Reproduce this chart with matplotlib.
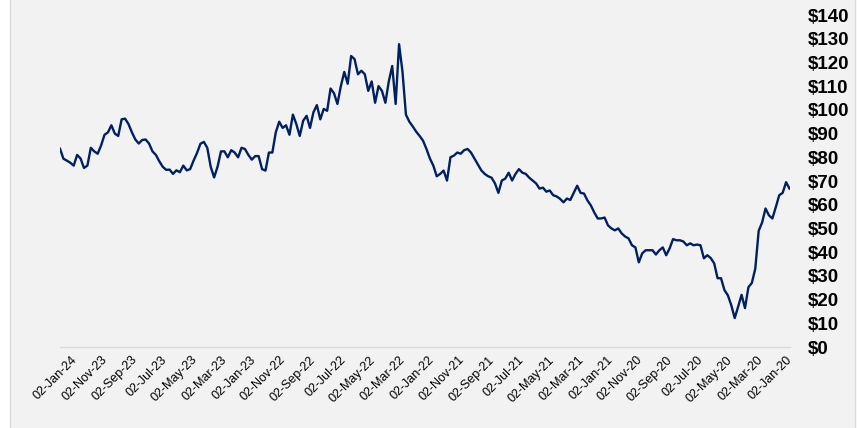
import matplotlib
matplotlib.use('Agg')
import matplotlib.pyplot as plt
import matplotlib.dates as mdates
from matplotlib.patches import Rectangle
import numpy as np
import pandas as pd

# weekly closing price, oldest first (03-Jan-20 .. 02-Feb-24)
prices = [
    66.8, 69.5, 65.0, 64.0, 59.0, 54.2, 55.5, 58.4, 52.5, 49.0,
    33.0, 27.0, 25.2, 16.4, 22.0, 17.0, 12.2, 17.6, 21.8, 24.0,
    29.0, 29.0, 35.3, 37.5, 38.7, 37.4, 42.9, 43.2, 42.9, 43.7,
    42.9, 44.5, 45.0, 45.0, 45.5, 41.6, 38.7, 42.0, 40.8, 39.0,
    40.8, 40.8, 40.8, 39.5, 35.7, 42.0, 42.9, 45.8, 46.6, 47.9,
    50.0, 49.2, 50.0, 51.3, 54.6, 54.2, 54.2, 56.7, 59.7, 61.8,
    64.7, 65.0, 68.0, 65.0, 62.0, 62.6, 61.0, 62.5, 63.5, 64.0,
    66.0, 65.5, 67.2, 66.8, 69.0, 70.2, 71.4, 73.0, 73.5, 75.0,
    73.0, 70.2, 73.5, 71.0, 70.2, 65.0, 69.0, 71.4, 72.0, 73.0,
    74.5, 77.0, 79.5, 82.0, 83.5, 83.0, 81.5, 82.0, 80.7, 80.0,
    70.2, 74.4, 73.0, 72.0, 76.5, 79.5, 83.5, 87.0, 89.0, 90.8,
    93.0, 95.0, 98.0, 116.0, 127.7, 102.5, 118.5, 112.0, 103.0, 108.0,
    110.0, 103.0, 112.0, 108.0, 115.0, 116.5, 115.0, 121.4, 122.7, 111.0,
    116.0, 110.0, 102.5, 107.0, 109.0, 99.6, 100.4, 96.0, 102.0, 99.0,
    92.4, 97.5, 95.4, 89.0, 94.0, 98.0, 89.5, 93.5, 92.4, 95.0,
    90.5, 82.0, 82.0, 74.4, 75.0, 80.5, 80.5, 79.0, 81.0, 83.5,
    84.0, 80.0, 82.0, 83.0, 80.0, 82.5, 82.5, 76.0, 71.5, 76.0,
    84.0, 86.5, 85.7, 81.8, 78.6, 75.0, 74.5, 76.5, 73.7, 74.5,
    73.0, 74.8, 74.7, 76.0, 78.3, 81.0, 82.5, 85.8, 87.5, 87.3,
    85.8, 87.5, 90.5, 94.0, 96.3, 96.0, 89.0, 90.0, 93.5, 90.5,
    89.5, 85.0, 81.5, 82.5, 84.0, 76.5, 75.5, 79.5, 81.0, 76.5,
    77.7, 78.6, 79.4, 83.6,
]
dates = pd.date_range(end='2024-02-02', periods=len(prices), freq='7D')

tick_dates = pd.date_range('2020-01-01', '2024-01-01', freq='2MS') + pd.Timedelta(days=1)
y_ticks = list(range(0, 141, 10))

fig = plt.figure(figsize=(8.57, 4.28), dpi=100)
fig.patch.set_facecolor('white')
bg = Rectangle((10 / 857, -0.01), 845 / 857, 1.02, transform=fig.transFigure,
               facecolor='#f2f2f2', edgecolor='#d9d9d9', linewidth=1, zorder=-10)
fig.add_artist(bg)

ax = fig.add_axes([60 / 857, 1 - 347 / 428, 730 / 857, 332 / 428])
ax.set_facecolor('none')
ax.set_zorder(5)
ax.plot(dates, prices, color='#002060', linewidth=1.7)

ax.set_xlim(pd.Timestamp('2024-02-02'), pd.Timestamp('2020-01-02'))
ax.set_ylim(0, 140)

ax.set_xticks(tick_dates)
ax.xaxis.set_major_formatter(mdates.DateFormatter('%d-%b-%y'))
ax.set_yticks(y_ticks)
ax.set_yticklabels(['$' + str(v) for v in y_ticks])

ax.yaxis.tick_right()
for s in ['top', 'left', 'right']:
    ax.spines[s].set_visible(False)
ax.spines['bottom'].set_color('#d9d9d9')
ax.spines['bottom'].set_linewidth(1)

ax.tick_params(axis='y', length=0, pad=13)
ax.tick_params(axis='x', length=0, pad=8)
for lab in ax.get_yticklabels():
    lab.set_fontfamily('Liberation Sans')
    lab.set_fontweight('bold')
    lab.set_fontsize(13.5)
for lab in ax.get_xticklabels():
    lab.set_fontfamily('Liberation Sans')
    lab.set_fontsize(9)
    lab.set_rotation(45)
    lab.set_rotation_mode('anchor')
    lab.set_ha('right')
    lab.set_va('center')

fig.savefig('out.png', dpi=100)
